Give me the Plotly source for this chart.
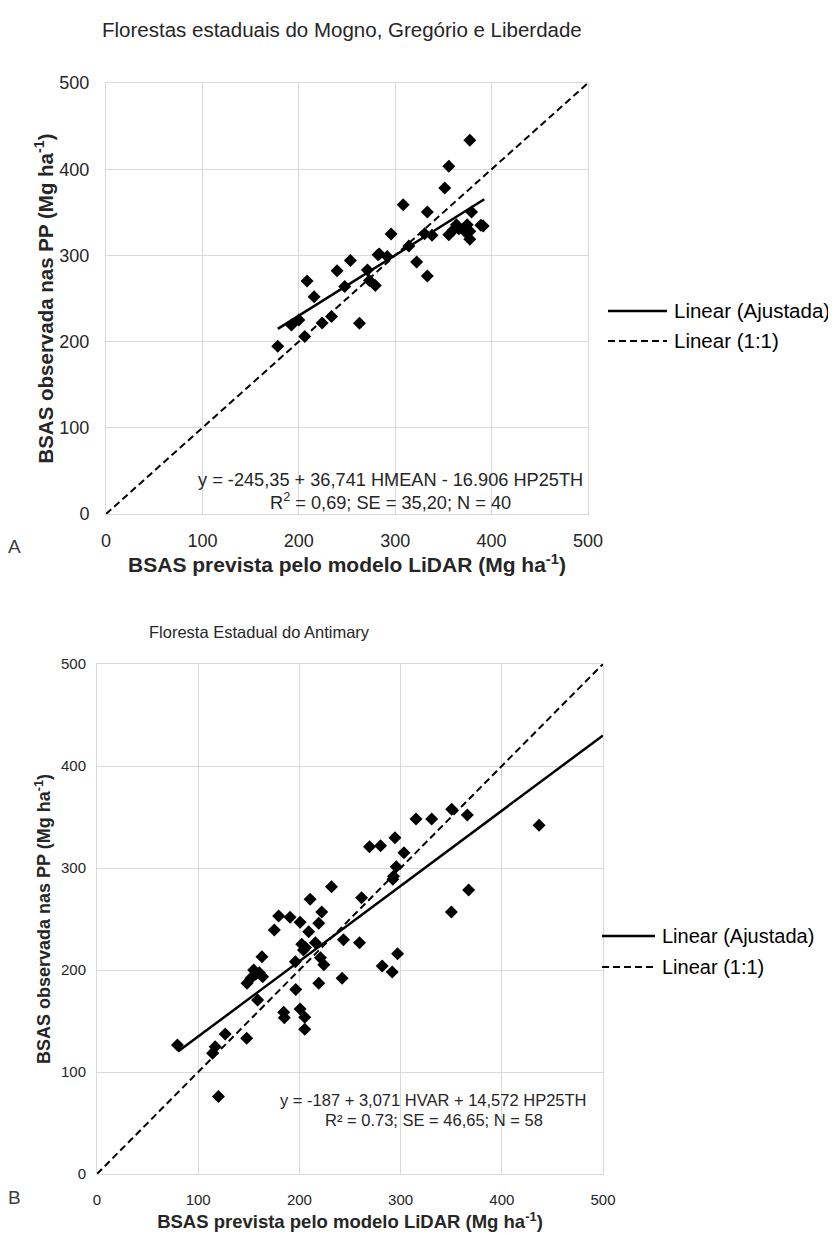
import plotly.graph_objects as go

W, H = 836, 1235
OFF = 8  # default page body margin

# ---------------- data ----------------
title_a = "Florestas estaduais do Mogno, Gregório e Liberdade"
title_b = "Floresta Estadual do Antimary"

a_pred = [178.2, 192.4, 200.0, 208.6, 215.9, 206.2, 224.2, 233.9, 239.7, 253.5,
          247.7, 262.9, 271.2, 273.2, 279.4, 282.2, 291.7, 295.8, 308.3, 314.2,
          322.2, 333.3, 333.3, 330.6, 338.2, 351.4, 355.6, 377.4, 355.6, 360.1,
          363.5, 374.7, 377.4, 372.9, 377.4, 379.2, 388.9, 391.3, 283.5, 366.0]
a_obs = [194.6, 219.4, 225.2, 270.2, 252.0, 205.8, 221.7, 229.1, 282.2, 294.2,
         264.0, 221.3, 283.0, 270.9, 265.1, 300.8, 298.8, 324.8, 358.9, 310.9,
         292.2, 276.0, 350.4, 325.2, 323.3, 378.3, 403.5, 433.7, 324.0, 329.1,
         335.7, 335.7, 327.9, 327.1, 318.6, 350.4, 334.9, 334.1, 301.5, 331.0]

b_pred = [79.5, 114.2, 116.8, 126.7, 147.9, 120.0, 148.2, 152.0, 154.8, 158.7,
          160.4, 163.7, 163.0, 175.2, 179.5, 184.5, 185.1, 190.8, 196.0, 196.4,
          200.7, 200.7, 202.3, 204.0, 205.3, 205.3, 209.2, 210.6, 215.8, 219.1,
          219.1, 220.8, 222.1, 224.1, 231.7, 242.2, 243.6, 259.4, 261.4, 269.3,
          280.2, 281.8, 291.7, 292.4, 294.4, 295.7, 297.0, 303.3, 315.2, 330.7,
          350.5, 350.2, 365.9, 436.8, 367.2, 157.0, 206.0, 293.0]
b_obs = [126.5, 118.3, 124.8, 137.3, 133.0, 76.0, 186.9, 191.8, 200.0, 170.6,
         197.4, 193.5, 213.0, 239.2, 253.0, 158.5, 153.3, 251.6, 208.2, 181.0,
         246.7, 161.8, 225.2, 219.6, 153.6, 141.8, 237.6, 269.3, 226.8, 245.8,
         186.9, 212.0, 256.9, 205.2, 281.7, 191.8, 229.7, 226.8, 270.9, 320.9,
         321.9, 203.9, 198.0, 288.9, 329.7, 301.3, 216.0, 315.0, 348.0, 348.0,
         357.5, 256.9, 352.0, 341.8, 278.4, 196.0, 222.0, 292.0]

# fitted lines (slope, intercept, x range)
a_fit_slope, a_fit_icpt, a_fit_x = 0.702, 89.6, [178.2, 392.4]
b_fit_slope, b_fit_icpt, b_fit_x = 0.738, 61.0, [80.0, 500.0]
one_to_one = [0, 500]

ticks = [0, 100, 200, 300, 400, 500]
leg_fit = "Linear (Ajustada)"
leg_11 = "Linear (1:1)"
eq_a = ["y = -245,35 + 36,741 HMEAN - 16.906 HP25TH",
        "R<sup>2</sup> = 0,69; SE = 35,20; N = 40"]
eq_b = ["y = -187 + 3,071 HVAR + 14,572 HP25TH",
        "R² = 0.73; SE = 46,65; N = 58"]
xlab = "<b>BSAS prevista pelo modelo LiDAR (Mg ha<sup>-1</sup>)</b>"
ylab = "<b>BSAS observada nas PP (Mg ha<sup>-1</sup>)</b>"

# ---------------- helpers ----------------
FONT = "Liberation Sans, Arial, sans-serif"
DASH = "7px,4px"
FW, FH = W - OFF, H - OFF
def pxx(x): return (x - OFF) / FW
def pyy(y): return 1 - (y - OFF) / FH

fig = go.Figure()

def add_panel(xs, ys, slope, icpt, fx, xa, ya):
    fig.add_trace(go.Scatter(x=xs, y=ys, mode="markers", xaxis=xa, yaxis=ya,
                             marker=dict(symbol="diamond", size=10, color="black"),
                             showlegend=False, hoverinfo="x+y"))
    fig.add_trace(go.Scatter(x=fx, y=[slope * v + icpt for v in fx], mode="lines",
                             xaxis=xa, yaxis=ya, line=dict(color="black", width=2.5),
                             showlegend=False, name=leg_fit))
    fig.add_trace(go.Scatter(x=one_to_one, y=one_to_one, mode="lines",
                             xaxis=xa, yaxis=ya,
                             line=dict(color="black", width=2, dash=DASH),
                             showlegend=False, name=leg_11))

add_panel(a_pred, a_obs, a_fit_slope, a_fit_icpt, a_fit_x, "x", "y")
add_panel(b_pred, b_obs, b_fit_slope, b_fit_icpt, b_fit_x, "x2", "y2")

grid = "#d9d9d9"
def axis(dom, tsize, title, tfont, standoff, anchor, lstand):
    return dict(domain=dom, range=[0, 500], tickvals=ticks, showgrid=True,
                gridcolor=grid, gridwidth=1, zeroline=False, showline=True,
                linecolor=grid, linewidth=1, mirror=True, ticks="",
                automargin=False, ticklabelstandoff=lstand,
                tickfont=dict(family=FONT, size=tsize, color="#262626"),
                title=dict(text=title, font=dict(family=FONT, size=tfont, color="#262626"),
                           standoff=standoff),
                anchor=anchor, fixedrange=True)

fig.update_layout(
    width=FW, height=FH, margin=dict(l=0, r=0, t=0, b=0),
    paper_bgcolor="white", plot_bgcolor="white",
    xaxis=axis([pxx(106), pxx(588)], 18, xlab, 21, 6, "y", 10),
    yaxis=axis([pyy(514), pyy(83)], 18, ylab, 20.5, 0, "x", 12),
    xaxis2=axis([pxx(97), pxx(603)], 15, xlab, 18.5, 8, "y2", 12),
    yaxis2=axis([pyy(1174), pyy(664)], 15, ylab, 18, 5, "x2", 7),
    font=dict(family=FONT, color="#262626"),
)

ann = []
shapes = []
def text(x, y, s, size, anchor="center", color="#262626"):
    ann.append(dict(x=pxx(x), y=pyy(y), xref="paper", yref="paper", text=s,
                    showarrow=False, xanchor=anchor, yanchor="middle",
                    font=dict(family=FONT, size=size, color=color)))

# titles
text(342, 29, title_a, 20.5)
text(259, 632, title_b, 16.5)
# panel letters
text(14, 546, "A", 19, color="#404040")
text(14, 1197, "B", 19, color="#404040")
# equations
text(390, 480, eq_a[0], 18.2)
text(390, 501, eq_a[1], 18.2)
text(434, 1100, eq_b[0], 16.5)
text(434, 1120, eq_b[1], 16.5)

# legends
def legend(x0, x1, y1, y2, size):
    shapes.append(dict(type="line", xref="paper", yref="paper",
                       x0=pxx(x0), x1=pxx(x1), y0=pyy(y1), y1=pyy(y1),
                       line=dict(color="black", width=2.5)))
    shapes.append(dict(type="line", xref="paper", yref="paper",
                       x0=pxx(x0), x1=pxx(x1), y0=pyy(y2), y1=pyy(y2),
                       line=dict(color="black", width=2, dash=DASH)))
    text(x1 + 5, y1, leg_fit, size, anchor="left", color="#000000")
    text(x1 + 5, y2, leg_11, size, anchor="left", color="#000000")

legend(608, 667, 311, 341, 20.5)
legend(602, 655, 936, 967, 20)

fig.update_layout(annotations=ann, shapes=shapes)
fig.write_html("out.html")
